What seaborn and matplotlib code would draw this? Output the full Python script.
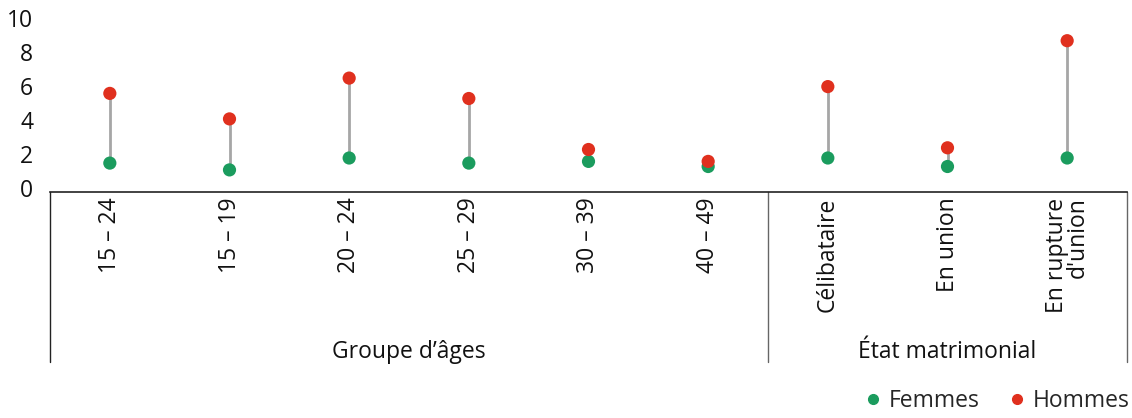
import numpy as np
import pandas as pd
import matplotlib
matplotlib.use("Agg")
import matplotlib.pyplot as plt
import matplotlib.transforms as mtransforms
from matplotlib.lines import Line2D
import seaborn as sns

categories = ["15 – 24", "15 – 19", "20 – 24", "25 – 29", "30 – 39", "40 – 49",
              "Célibataire", "En union", "En rupture\nd'union"]
femmes = [1.7, 1.3, 2.0, 1.7, 1.8, 1.5, 2.0, 1.5, 2.0]
hommes = [5.8, 4.3, 6.7, 5.5, 2.5, 1.8, 6.2, 2.6, 8.9]
groups = ["Groupe d’âges", "État matrimonial"]
group_sizes = [6, 3]
yticks = [0, 2, 4, 6, 8, 10]

GREEN = "#1b9c5e"
RED = "#e0301e"
GREY = "#a6a6a6"
FS = 16.5

sns.set_theme(style="white")
plt.rcParams["font.family"] = ["Open Sans", "DejaVu Sans"]

df = pd.DataFrame({
    "cat": categories * 2,
    "val": femmes + hommes,
    "sexe": ["Femmes"] * len(categories) + ["Hommes"] * len(categories),
})

fig = plt.figure(figsize=(11.32, 4.18), dpi=100)
ax = fig.add_axes([50 / 1132, 226 / 418, 1077 / 1132, 170 / 418])

x = np.arange(len(categories))
ax.vlines(x, femmes, hommes, color=GREY, lw=2, zorder=1)
sns.stripplot(data=df, x="cat", y="val", hue="sexe", order=categories,
              palette={"Femmes": GREEN, "Hommes": RED}, jitter=False,
              size=9.5, linewidth=0, ax=ax, legend=False, zorder=3)

ax.set_xlim(-0.5, len(categories) - 0.5)
ax.set_ylim(0, 10)
ax.set_yticks(yticks)
ax.set_xlabel("")
ax.set_ylabel("")
for s in ["top", "right", "left"]:
    ax.spines[s].set_visible(False)
ax.spines["bottom"].set_color("#222222")
ax.spines["bottom"].set_linewidth(1.2)
ax.tick_params(axis="y", length=0, pad=12, labelsize=FS, colors="#111111")
ax.tick_params(axis="x", length=0, pad=4, labelsize=FS, colors="#111111")
ax.set_xticks(x)
ax.set_xticklabels(categories, rotation=90, va="top", ha="center",
                   multialignment="right", linespacing=0.8)
shift_up = mtransforms.ScaledTranslation(0, 3 / 72, fig.dpi_scale_trans)
for lab in ax.get_yticklabels():
    lab.set_transform(lab.get_transform() + shift_up)

# group separators and labels
trans = mtransforms.blended_transform_factory(ax.transData, ax.transAxes)
bounds = np.concatenate([[0], np.cumsum(group_sizes)]) - 0.5
for i, b in enumerate(bounds):
    ax.plot([b, b], [0, -1.0], transform=trans, clip_on=False,
            color="#222222" if i == 0 else "#666666", lw=1.0)
for i, g in enumerate(groups):
    mid = (bounds[i] + bounds[i + 1]) / 2
    ax.text(mid, -0.94, g, transform=trans, ha="center", va="center",
            fontsize=FS, color="#111111")

handles = [Line2D([], [], marker="o", ls="", color=GREEN, markersize=7),
           Line2D([], [], marker="o", ls="", color=RED, markersize=7)]
fig.legend(handles, ["Femmes", "Hommes"], loc="lower right",
           bbox_to_anchor=(1.016, -0.038), ncol=2, frameon=False,
           fontsize=FS, handletextpad=0.2, columnspacing=1.1, handlelength=1.0)

fig.savefig("out.png", dpi=100)
